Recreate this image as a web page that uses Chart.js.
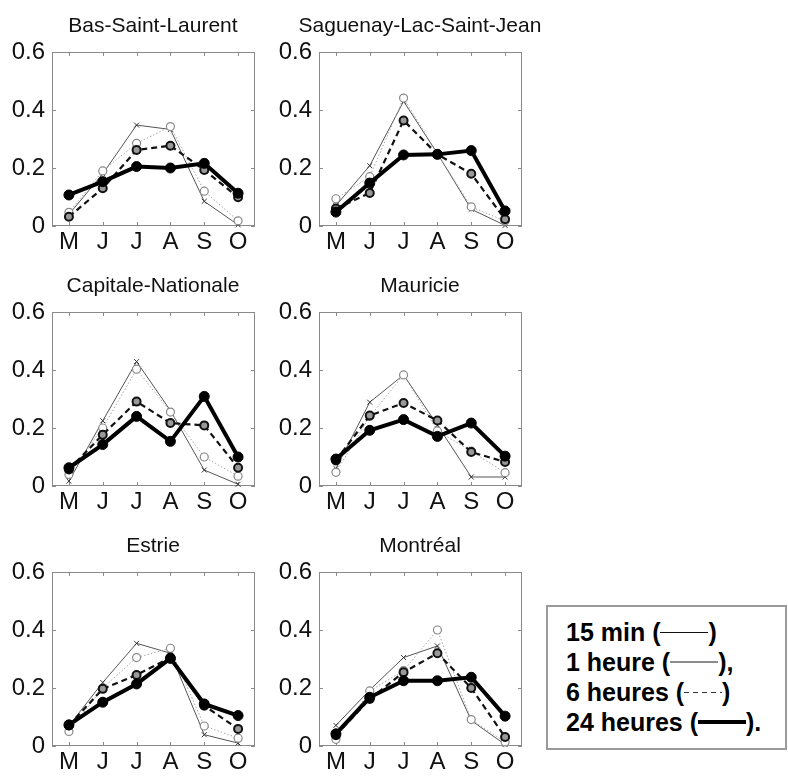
<!DOCTYPE html>
<html>
<head>
<meta charset="utf-8">
<script src="https://cdn.jsdelivr.net/npm/chart.js@4"></script>
<style>
  body { margin: 0; background: #fff; }
  #wrap { position: relative; width: 788px; height: 777px; overflow: hidden; font-family: "Liberation Sans", Arial, sans-serif; }
  .panel { position: absolute; width: 265px; height: 258px; }
  .title { position: absolute; width: 300px; margin-left: -150px; text-align: center; font-size: 21px; color: #111;
           line-height: 24px; white-space: nowrap; }
  .legend { position: absolute; left: 546px; top: 605px; width: 241px; height: 145px; box-sizing: border-box;
            border: 2px solid #9a9a9a; padding: 10px 0 0 18px; font-weight: bold; font-size: 25px; color: #000; }
  .legend div { height: 30px; line-height: 30px; white-space: nowrap; }
  .s { display: inline-block; width: 48px; vertical-align: middle; position: relative; top: -2px; }
  .s15 { height: 1.5px; background: #111; }
  .s1  { height: 2px; background: #8c8c8c; }
  .s6  { width: 38px; height: 1.5px; background: repeating-linear-gradient(90deg, #333 0 5px, transparent 5px 9px); }
  .s24 { height: 4px; background: #000; }
</style>
</head>
<body>
<div id="wrap">
  <div class="panel" style="left:0;top:0"><canvas id="c0"></canvas></div>
  <div class="panel" style="left:267px;top:0"><canvas id="c1"></canvas></div>
  <div class="panel" style="left:0;top:260px"><canvas id="c2"></canvas></div>
  <div class="panel" style="left:267px;top:260px"><canvas id="c3"></canvas></div>
  <div class="panel" style="left:0;top:520px"><canvas id="c4"></canvas></div>
  <div class="panel" style="left:267px;top:520px"><canvas id="c5"></canvas></div>
  <div class="legend">
    <div>15 min (<span class="s s15"></span>)</div>
    <div>1 heure (<span class="s s1"></span>),</div>
    <div>6 heures (<span class="s s6"></span>)</div>
    <div>24 heures (<span class="s s24"></span>).</div>
  </div>
</div>
<script>
const months  = ['M', 'J', 'J', 'A', 'S', 'O'];
const regions = ['Bas-Saint-Laurent', 'Saguenay-Lac-Saint-Jean', 'Capitale-Nationale', 'Mauricie', 'Estrie', 'Montréal'];
const yTicks  = [0, 0.2, 0.4, 0.6];

// one row per region, May -> October
const min15 = [
  [0.040, 0.180, 0.348, 0.333, 0.085, 0.004],
  [0.070, 0.208, 0.430, 0.250, 0.058, 0.002],
  [0.017, 0.225, 0.429, 0.260, 0.055, 0.006],
  [0.060, 0.289, 0.383, 0.210, 0.031, 0.031],
  [0.070, 0.219, 0.354, 0.320, 0.039, 0.010],
  [0.071, 0.193, 0.305, 0.345, 0.088, 0.005],
];
const heure1 = [
  [0.047, 0.190, 0.285, 0.343, 0.120, 0.018],
  [0.094, 0.170, 0.441, 0.250, 0.066, 0.017],
  [0.040, 0.200, 0.403, 0.255, 0.100, 0.034],
  [0.047, 0.240, 0.383, 0.190, 0.120, 0.046],
  [0.050, 0.200, 0.305, 0.337, 0.069, 0.027],
  [0.023, 0.190, 0.260, 0.400, 0.091, 0.014],
];
const heures6 = [
  [0.032, 0.130, 0.262, 0.277, 0.193, 0.099],
  [0.060, 0.114, 0.364, 0.247, 0.180, 0.023],
  [0.057, 0.177, 0.291, 0.217, 0.209, 0.063],
  [0.088, 0.243, 0.286, 0.226, 0.117, 0.083],
  [0.071, 0.197, 0.245, 0.305, 0.139, 0.059],
  [0.037, 0.162, 0.254, 0.320, 0.200, 0.031],
];
const heures24 = [
  [0.107, 0.153, 0.205, 0.200, 0.216, 0.113],
  [0.048, 0.148, 0.245, 0.247, 0.260, 0.052],
  [0.063, 0.143, 0.240, 0.154, 0.309, 0.100],
  [0.093, 0.192, 0.229, 0.171, 0.217, 0.103],
  [0.073, 0.151, 0.214, 0.302, 0.145, 0.105],
  [0.042, 0.168, 0.225, 0.225, 0.237, 0.103],
];

const FONT = '"Liberation Sans", Arial, sans-serif';

// box around the plot with short inward tick marks on all four sides
const boxFrame = {
  id: 'boxFrame',
  beforeDatasetsDraw(chart) {
    const { ctx, chartArea: a, scales: { x, y } } = chart;
    const t = 4;
    ctx.save();
    ctx.strokeStyle = '#8a8a8a';
    ctx.lineWidth = 1;
    ctx.strokeRect(a.left + 0.5, a.top + 0.5, a.right - a.left - 1, a.bottom - a.top - 1);
    ctx.beginPath();
    x.ticks.forEach((tk, i) => {
      const px = Math.round(x.getPixelForTick(i)) + 0.5;
      ctx.moveTo(px, a.bottom); ctx.lineTo(px, a.bottom - t);
      ctx.moveTo(px, a.top);    ctx.lineTo(px, a.top + t);
    });
    y.ticks.forEach(tk => {
      const py = Math.round(y.getPixelForValue(tk.value)) + 0.5;
      ctx.moveTo(a.left, py);  ctx.lineTo(a.left + t, py);
      ctx.moveTo(a.right, py); ctx.lineTo(a.right - t, py);
    });
    ctx.stroke();
    ctx.restore();
  }
};

function makePanel(i) {
  const canvas = document.getElementById('c' + i);
  const box = canvas.parentNode;

  // region name, centred over the plot box
  const title = document.createElement('div');
  title.className = 'title';
  title.textContent = regions[i];
  title.style.left = (box.offsetLeft + 153) + 'px';
  title.style.top = (box.offsetTop + 13) + 'px';
  document.getElementById('wrap').appendChild(title);

  // first dataset is painted last, so the 24 h curve sits on top
  const datasets = [
    { label: '24 heures', data: heures24[i], borderColor: '#000', borderWidth: 4,
      pointRadius: 5, pointBackgroundColor: '#000', pointBorderColor: '#000', pointBorderWidth: 1 },
    { label: '6 heures', data: heures6[i], borderColor: '#111', borderWidth: 2.2, borderDash: [6, 4],
      pointRadius: 4, pointBackgroundColor: '#999', pointBorderColor: '#111', pointBorderWidth: 2 },
    { label: '1 heure', data: heure1[i], borderColor: '#a5a5a5', borderWidth: 1, borderDash: [1.5, 2],
      pointRadius: 4, pointBackgroundColor: '#fff', pointBorderColor: '#888', pointBorderWidth: 1.2 },
    { label: '15 min', data: min15[i], borderColor: '#555', borderWidth: 1,
      pointStyle: 'crossRot', pointRadius: 3.5, pointBorderColor: '#333', pointBorderWidth: 1 },
  ].map(d => ({ ...d, tension: 0, clip: false }));

  new Chart(canvas, {
    type: 'line',
    data: { labels: months, datasets },
    options: {
      responsive: true, maintainAspectRatio: false, animation: false,
      layout: { padding: { left: 0, right: 10, top: 52, bottom: 0 } },
      plugins: { legend: { display: false }, tooltip: { enabled: false } },
      scales: {
        x: {
          type: 'category', offset: true,
          grid: { display: false, drawTicks: false }, border: { display: false },
          ticks: { color: '#111', padding: 2, font: { family: FONT, size: 24 }, maxRotation: 0, autoSkip: false },
          afterFit: s => { s.height = 32; },
        },
        y: {
          min: 0, max: 0.6,
          grid: { display: false, drawTicks: false }, border: { display: false },
          afterBuildTicks: s => { s.ticks = yTicks.map(v => ({ value: v })); },
          ticks: { color: '#111', padding: 7, font: { family: FONT, size: 24 } },
          afterFit: s => { s.width = 52; },
        },
      },
    },
    plugins: [boxFrame],
  });
}

regions.forEach((r, i) => makePanel(i));
</script>
</body>
</html>
